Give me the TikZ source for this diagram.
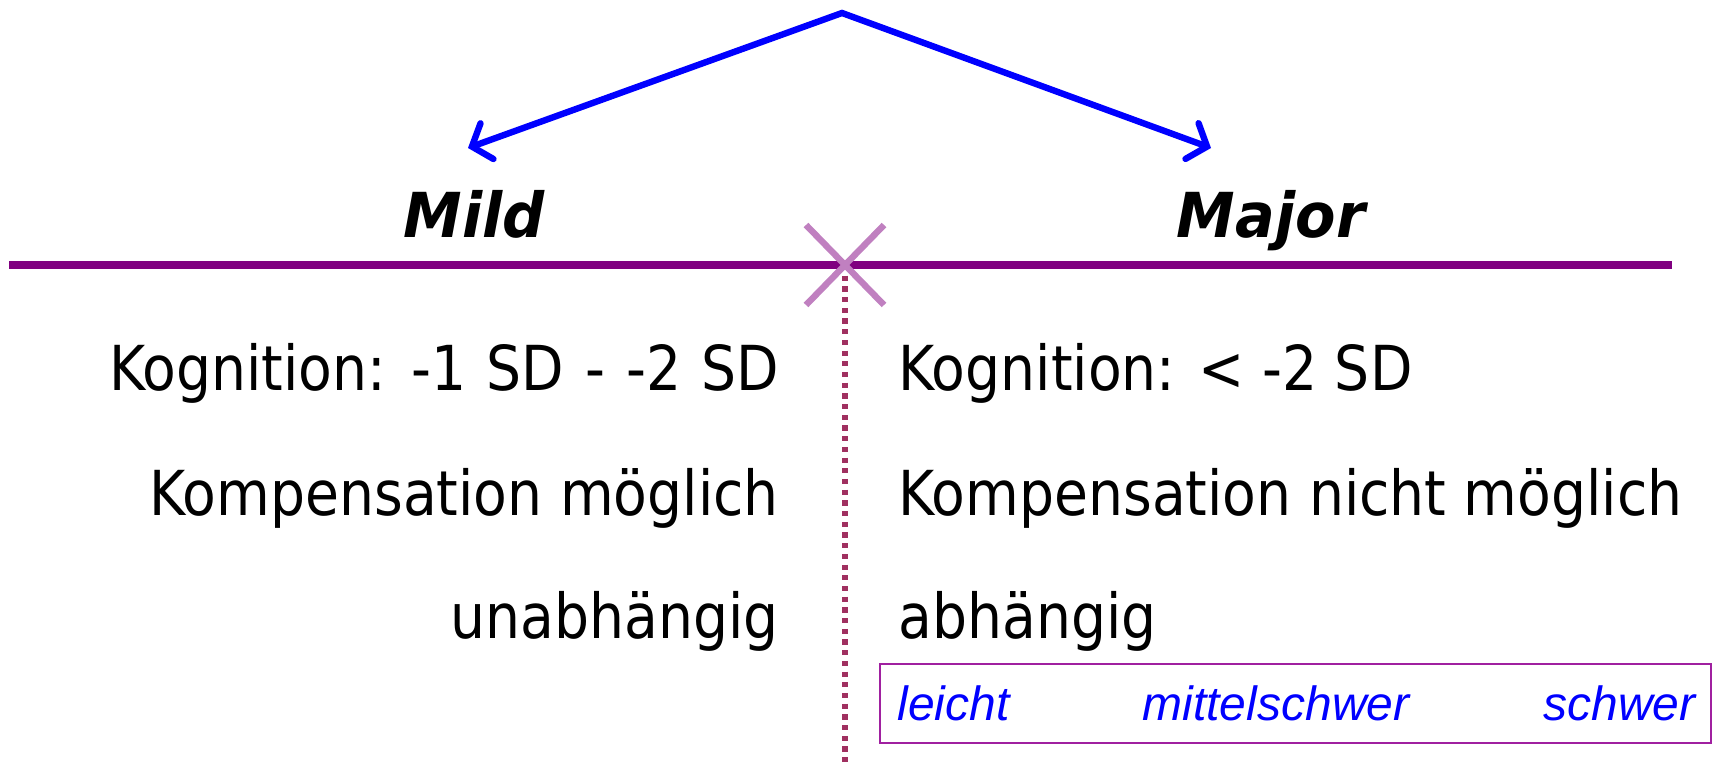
\documentclass[tikz,border=0pt]{standalone}
\usepackage{fontspec}
\setmainfont{DejaVu Sans}[FakeStretch=0.89]
\newfontfamily\headfont{DejaVu Sans}[FakeStretch=0.95]
\newfontfamily\arialfont{Liberation Sans}
\usetikzlibrary{arrows.meta}
\definecolor{mainpurple}{RGB}{128,0,128}
\definecolor{crosspurple}{RGB}{192,128,192}
\definecolor{dotcol}{RGB}{160,48,96}
\definecolor{boxpurple}{RGB}{160,32,160}
\definecolor{arrowblue}{RGB}{0,0,255}
\tikzset{
  bluearrow/.style={draw=arrowblue, line width=3.2pt, line join=miter,
    {Straight Barb[length=8pt,width=19pt,line cap=round]}-{Straight Barb[length=8pt,width=19pt,line cap=round]}},
  mainline/.style={draw=mainpurple, line width=3.6pt},
  xmark/.style={draw=crosspurple, line width=3.2pt},
  dotline/.style={draw=dotcol, line width=2.7pt, dash pattern=on 2.6pt off 2.75pt},
  boxline/.style={draw=boxpurple, line width=0.6pt},
  bodytxt/.style={inner sep=0pt, font=\fontsize{31}{37}\selectfont},
  headtxt/.style={inner sep=0pt, font=\headfont\fontsize{31}{37}\selectfont\bfseries\itshape},
  scaletxt/.style={inner sep=0pt, text=arrowblue, font=\arialfont\itshape\fontsize{24}{28}\selectfont}
}
\begin{document}
\begin{tikzpicture}[x=0.5pt,y=-0.5pt]
\useasboundingbox (0,0) rectangle (1714,769);
% arrows
\coordinate (apex) at (842,13);
\coordinate (ltip) at (468,148);
\coordinate (rtip) at (1211,148);
\draw[bluearrow] (ltip) -- (apex) -- (rtip);
% headings
\node[headtxt, anchor=base] (mild) at (474,238) {Mild};
\node[headtxt, anchor=base] (major) at (1271,238) {Major};
% main line
\coordinate (hl) at (9,265);
\coordinate (hr) at (1672,265);
\draw[mainline] (hl) -- (hr);
% dotted divider
\coordinate (cross) at (845,265);
\coordinate (dend) at (845,766);
\draw[dotline] (cross) -- (dend);
% cross
\draw[xmark] (cross) +(-39,-40) -- +(39,40);
\draw[xmark] (cross) +(-39,40) -- +(39,-40);
% left column
\node[bodytxt, anchor=base east] (l1) at (779,391) {Kognition:\hspace{1pt} -1\hspace{1pt} SD\hspace{2pt} - \hspace{2pt}-2\hspace{1pt} SD};
\node[bodytxt, anchor=base east] (l2) at (779,516) {Kompensation möglich};
\node[bodytxt, anchor=base east] (l3) at (779,639) {unabhängig};
% right column
\node[bodytxt, anchor=base west] (r1) at (898,391) {Kognition: < -2 SD};
\node[bodytxt, anchor=base west] (r2) at (898,516) {Kompensation nicht möglich};
\node[bodytxt, anchor=base west] (r3) at (898,639) {abhängig};
% severity box
\coordinate (boxa) at (880,664);
\coordinate (boxb) at (1711,743);
\draw[boxline] (boxa) rectangle (boxb);
\node[scaletxt, anchor=base west] (s1) at (897,720) {leicht};
\node[scaletxt, anchor=base] (s2) at (1276,720) {mittelschwer};
\node[scaletxt, anchor=base east] (s3) at (1696,720) {schwer};
\end{tikzpicture}
\end{document}
